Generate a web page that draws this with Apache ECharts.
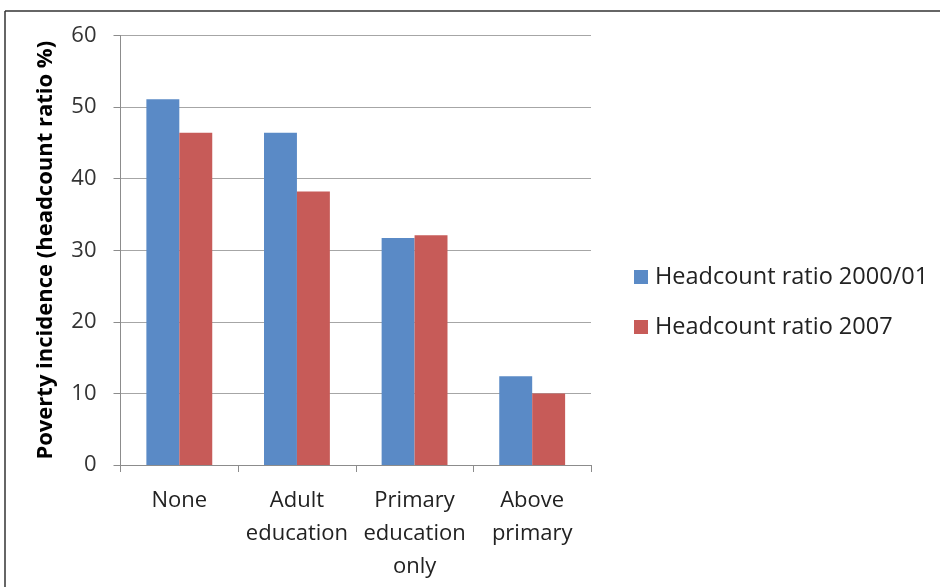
<!DOCTYPE html>
<html>
<head>
<meta charset="utf-8">
<script src="https://cdn.jsdelivr.net/npm/echarts@6/dist/echarts.min.js"></script>
<style>
  html, body { margin: 0; padding: 0; background: #fff; }
  #chart { width: 940px; height: 587px; }
</style>
</head>
<body>
<div id="chart"></div>
<script>
// Education level of household head
const categories = ['None', 'Adult\neducation', 'Primary\neducation\nonly', 'Above\nprimary'];
const seriesNames = ['Headcount ratio 2000/01', 'Headcount ratio 2007'];
const ratio2000 = [51.1, 46.4, 31.7, 12.4];
const ratio2007 = [46.4, 38.2, 32.1, 10.0];
const yTicks = { min: 0, max: 60, interval: 10 };

const FONT = '"Open Sans", Lato, sans-serif';
const chart = echarts.init(document.getElementById('chart'), null, { renderer: 'canvas' });

chart.setOption({
  animation: false,
  backgroundColor: '#ffffff',
  grid: { left: 120.5, right: 349, top: 35.5, bottom: 122, containLabel: false },
  legend: {
    orient: 'vertical',
    left: 634,
    top: 265,
    padding: 0,
    itemWidth: 14,
    itemHeight: 14,
    itemGap: 26,
    icon: 'rect',
    textStyle: { fontFamily: FONT, fontSize: 23.5, color: '#222', padding: [0, 0, 0, 2] },
    data: seriesNames
  },
  xAxis: {
    type: 'category',
    data: categories,
    axisLine: { lineStyle: { color: '#8c8c8c', width: 1 } },
    axisTick: { show: true, length: 7, inside: false, lineStyle: { color: '#8c8c8c' } },
    axisLabel: {
      fontFamily: FONT, fontSize: 22, color: '#222', lineHeight: 33, margin: 19, interval: 0
    },
    splitLine: { show: false }
  },
  yAxis: {
    type: 'value',
    min: yTicks.min,
    max: yTicks.max,
    interval: yTicks.interval,
    name: 'Poverty incidence (headcount ratio %)',
    nameLocation: 'middle',
    nameGap: 64,
    nameTextStyle: { fontFamily: FONT, fontSize: 22, fontWeight: 'bold', color: '#000' },
    axisLine: { show: true, lineStyle: { color: '#8c8c8c', width: 1 } },
    axisTick: { show: true, length: 7, lineStyle: { color: '#8c8c8c' } },
    axisLabel: { fontFamily: FONT, fontSize: 22, color: '#333', margin: 24 },
    splitLine: { show: true, lineStyle: { color: '#a6a6a6', width: 1 } }
  },
  series: [
    {
      name: seriesNames[0],
      type: 'bar',
      data: ratio2000,
      barGap: '0%',
      barCategoryGap: '44%',
      itemStyle: { color: '#5a8ac6' }
    },
    {
      name: seriesNames[1],
      type: 'bar',
      data: ratio2007,
      itemStyle: { color: '#c75b58' }
    }
  ],
  graphic: [
    // outer frame: top and left edges
    { type: 'line', shape: { x1: 5, y1: 11, x2: 940, y2: 11 }, style: { stroke: '#333', lineWidth: 1.5 } },
    { type: 'line', shape: { x1: 5, y1: 11, x2: 5, y2: 587 }, style: { stroke: '#333', lineWidth: 1.5 } }
  ]
});
</script>
</body>
</html>
